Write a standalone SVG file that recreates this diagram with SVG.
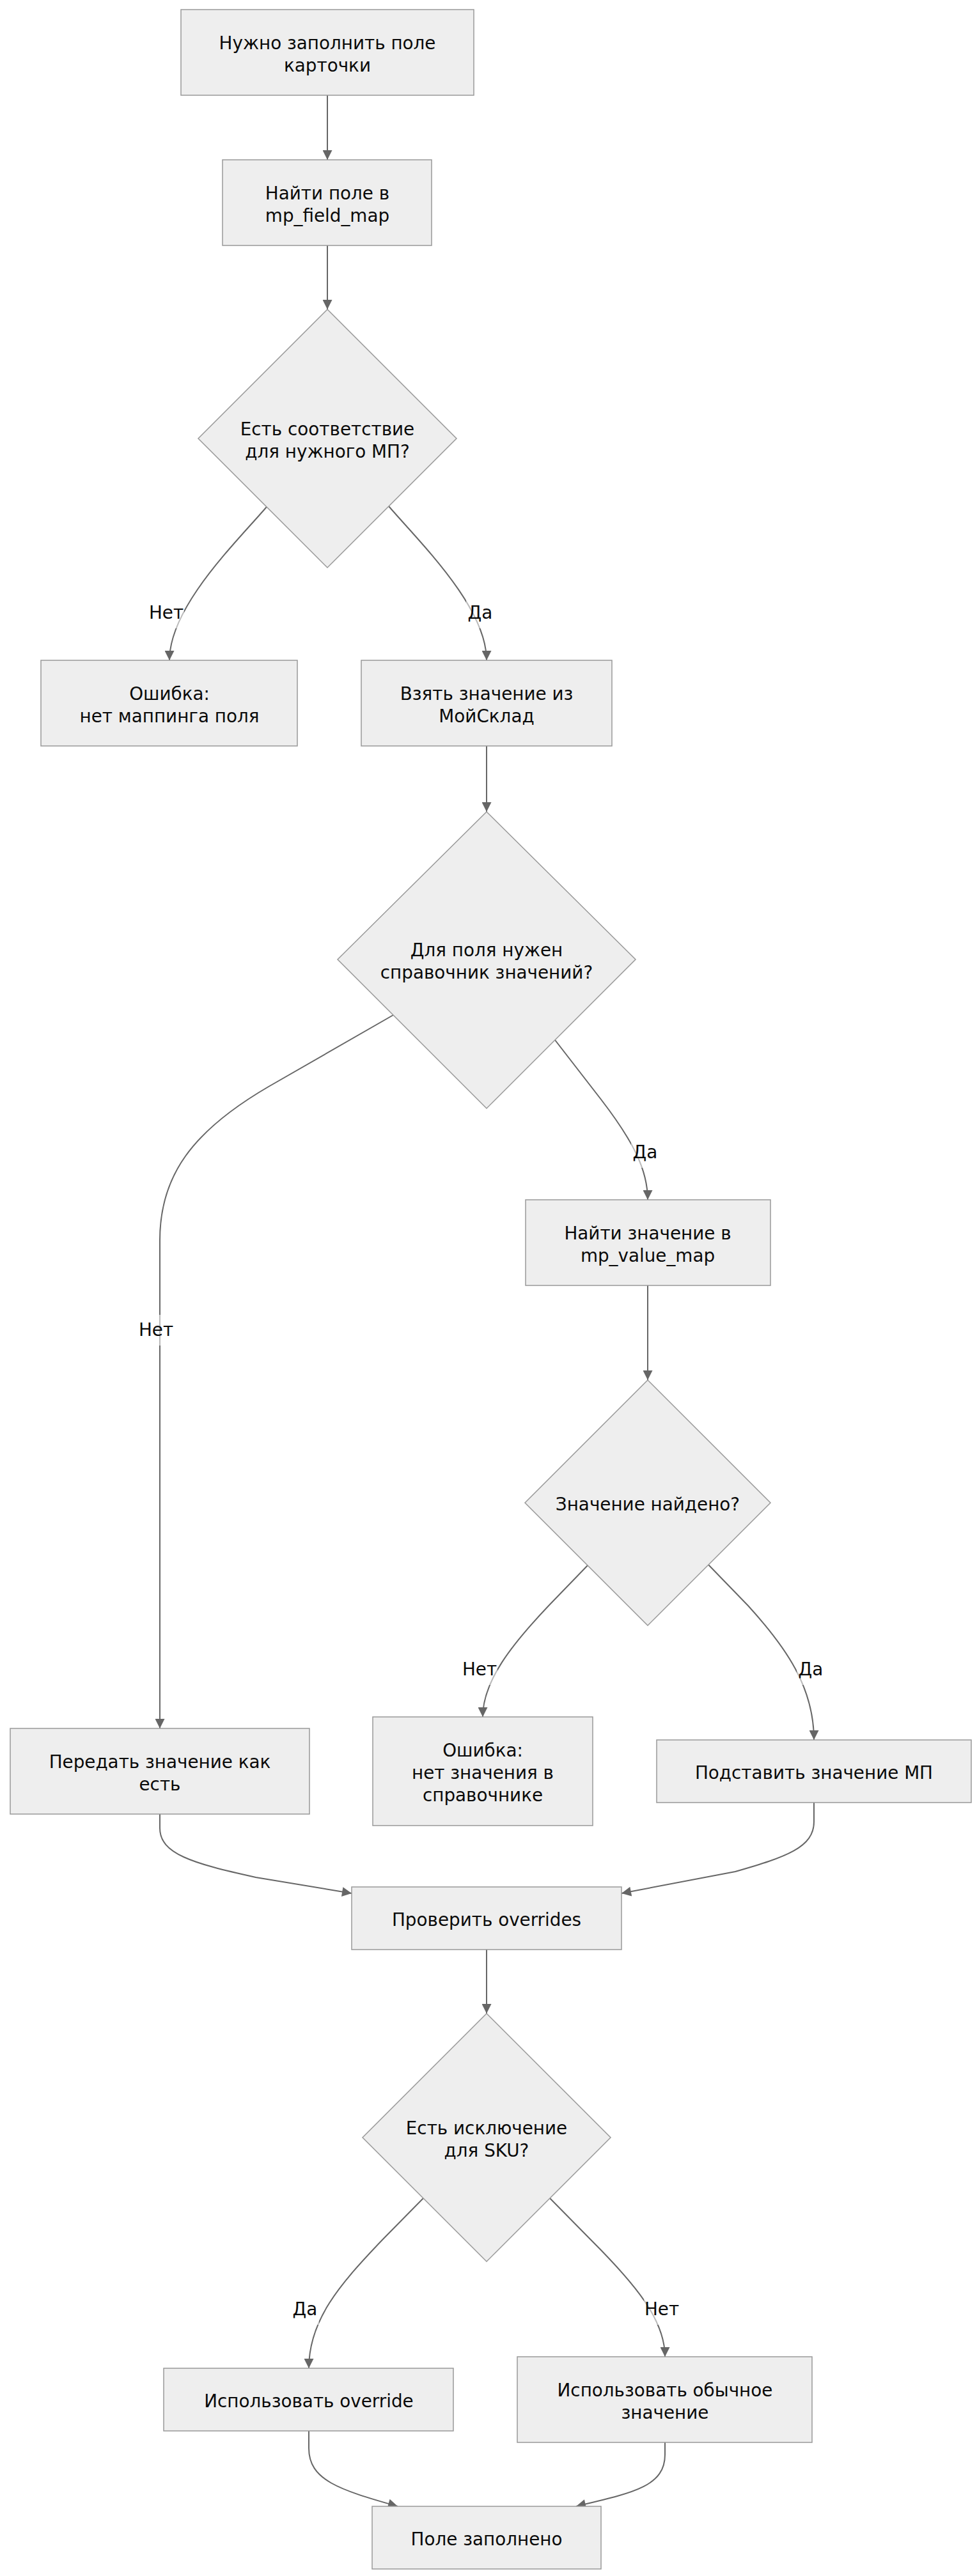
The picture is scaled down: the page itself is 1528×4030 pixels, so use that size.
<svg xmlns="http://www.w3.org/2000/svg" width="1528" height="4030" viewBox="0 0 1528 4030">
<style>
.n rect,.n polygon{fill:#eeeeee;stroke:#999999;stroke-width:1.5}
text{font-family:"DejaVu Sans",Verdana,sans-serif;font-size:27.8px;fill:#0a0a0a;text-anchor:middle}
.e path{fill:none;stroke:#666666;stroke-width:2}
.lb{fill:#ffffff;fill-opacity:0.55}
</style>
<defs>
<marker id="ah" viewBox="0 0 10 10" refX="10" refY="5" markerUnits="userSpaceOnUse" markerWidth="16" markerHeight="15" orient="auto">
<path d="M0,0 L10,5 L0,10 z" fill="#666666"/>
</marker>
</defs>
<rect width="1528" height="4030" fill="#ffffff"/>
<g class="e" id="edges">
<path marker-end="url(#ah)" d="M512,149 L512,250"/>
<path marker-end="url(#ah)" d="M512,384 L512,484"/>
<path marker-end="url(#ah)" d="M417,793 C367,851 265,950 265,1033"/>
<path marker-end="url(#ah)" d="M608,792 C658,850 761,950 761,1033"/>
<path marker-end="url(#ah)" d="M761,1167 L761,1270"/>
<path marker-end="url(#ah)" d="M615,1588 L420,1700 C300,1770 250,1840 250,1940 L250,2704"/>
<path marker-end="url(#ah)" d="M868,1627 L940,1720 C990,1785 1013,1830 1013,1877"/>
<path marker-end="url(#ah)" d="M1013,2011 L1013,2159"/>
<path marker-end="url(#ah)" d="M919,2449 L860,2510 C800,2573 755,2630 755,2686"/>
<path marker-end="url(#ah)" d="M1108,2448 L1170,2512 C1230,2578 1273,2640 1273,2722"/>
<path marker-end="url(#ah)" d="M250,2838 L250,2860 C250,2900 300,2915 400,2937 L550,2962"/>
<path marker-end="url(#ah)" d="M1273,2820 L1273,2850 C1273,2890 1230,2905 1150,2928 L972,2962"/>
<path marker-end="url(#ah)" d="M761,3050 L761,3150"/>
<path marker-end="url(#ah)" d="M662,3439 L600,3502 C530,3575 483,3630 483,3705"/>
<path marker-end="url(#ah)" d="M860,3439 L925,3505 C995,3575 1040,3630 1040,3687"/>
<path marker-end="url(#ah)" d="M483,3803 L483,3830 C483,3880 530,3895 622,3921"/>
<path marker-end="url(#ah)" d="M1040,3821 L1040,3840 C1040,3890 990,3900 901,3921"/>
</g>
<g id="edge-labels">
<rect class="lb" x="232" y="935" width="56" height="48"/><text x="260" y="968">Нет</text>
<rect class="lb" x="729" y="935" width="44" height="48"/><text x="751" y="968">Да</text>
<rect class="lb" x="216" y="2057" width="56" height="48"/><text x="244" y="2090">Нет</text>
<rect class="lb" x="987" y="1779" width="44" height="48"/><text x="1009" y="1812">Да</text>
<rect class="lb" x="722" y="2588" width="56" height="48"/><text x="750" y="2621">Нет</text>
<rect class="lb" x="1246" y="2588" width="44" height="48"/><text x="1268" y="2621">Да</text>
<rect class="lb" x="455" y="3589" width="44" height="48"/><text x="477" y="3622">Да</text>
<rect class="lb" x="1007" y="3589" width="56" height="48"/><text x="1035" y="3622">Нет</text>
</g>
<g class="n" id="nA"><rect x="283" y="15" width="458" height="134"/><text x="512" y="76.5">Нужно заполнить поле</text><text x="512" y="111.5">карточки</text></g>
<g class="n" id="nB"><rect x="348" y="250" width="327" height="134"/><text x="512" y="311.5">Найти поле в</text><text x="512" y="346.5">mp_field_map</text></g>
<g class="n" id="nD1"><polygon points="512,484 714,686 512,888 310,686"/><text x="512" y="680.5">Есть соответствие</text><text x="512" y="715.5">для нужного МП?</text></g>
<g class="n" id="nC"><rect x="64" y="1033" width="401" height="134"/><text x="265" y="1094.5">Ошибка:</text><text x="265" y="1129.5">нет маппинга поля</text></g>
<g class="n" id="nD"><rect x="565" y="1033" width="392" height="134"/><text x="761" y="1094.5">Взять значение из</text><text x="761" y="1129.5">МойСклад</text></g>
<g class="n" id="nD2"><polygon points="761,1270 994,1501 761,1734 528,1501"/><text x="761" y="1495.5">Для поля нужен</text><text x="761" y="1530.5">справочник значений?</text></g>
<g class="n" id="nE"><rect x="822" y="1877" width="383" height="134"/><text x="1013" y="1938.5">Найти значение в</text><text x="1013" y="1973.5">mp_value_map</text></g>
<g class="n" id="nD3"><polygon points="1013,2159 1205,2351 1013,2543 821,2351"/><text x="1013" y="2363">Значение найдено?</text></g>
<g class="n" id="nH"><rect x="16" y="2704" width="468" height="134"/><text x="250" y="2765.5">Передать значение как</text><text x="250" y="2800.5">есть</text></g>
<g class="n" id="nF"><rect x="583" y="2686" width="344" height="170"/><text x="755" y="2748">Ошибка:</text><text x="755" y="2783">нет значения в</text><text x="755" y="2818">справочнике</text></g>
<g class="n" id="nG"><rect x="1027" y="2722" width="492" height="98"/><text x="1273" y="2783">Подставить значение МП</text></g>
<g class="n" id="nI"><rect x="550" y="2952" width="422" height="98"/><text x="761" y="3013">Проверить overrides</text></g>
<g class="n" id="nD4"><polygon points="761,3150 955,3344 761,3538 567,3344"/><text x="761" y="3338.5">Есть исключение</text><text x="761" y="3373.5">для SKU?</text></g>
<g class="n" id="nJ"><rect x="256" y="3705" width="453" height="98"/><text x="483" y="3766">Использовать override</text></g>
<g class="n" id="nK"><rect x="809" y="3687" width="461" height="134"/><text x="1040" y="3748.5">Использовать обычное</text><text x="1040" y="3783.5">значение</text></g>
<g class="n" id="nL"><rect x="582" y="3921" width="358" height="98"/><text x="761" y="3982">Поле заполнено</text></g>
</svg>
